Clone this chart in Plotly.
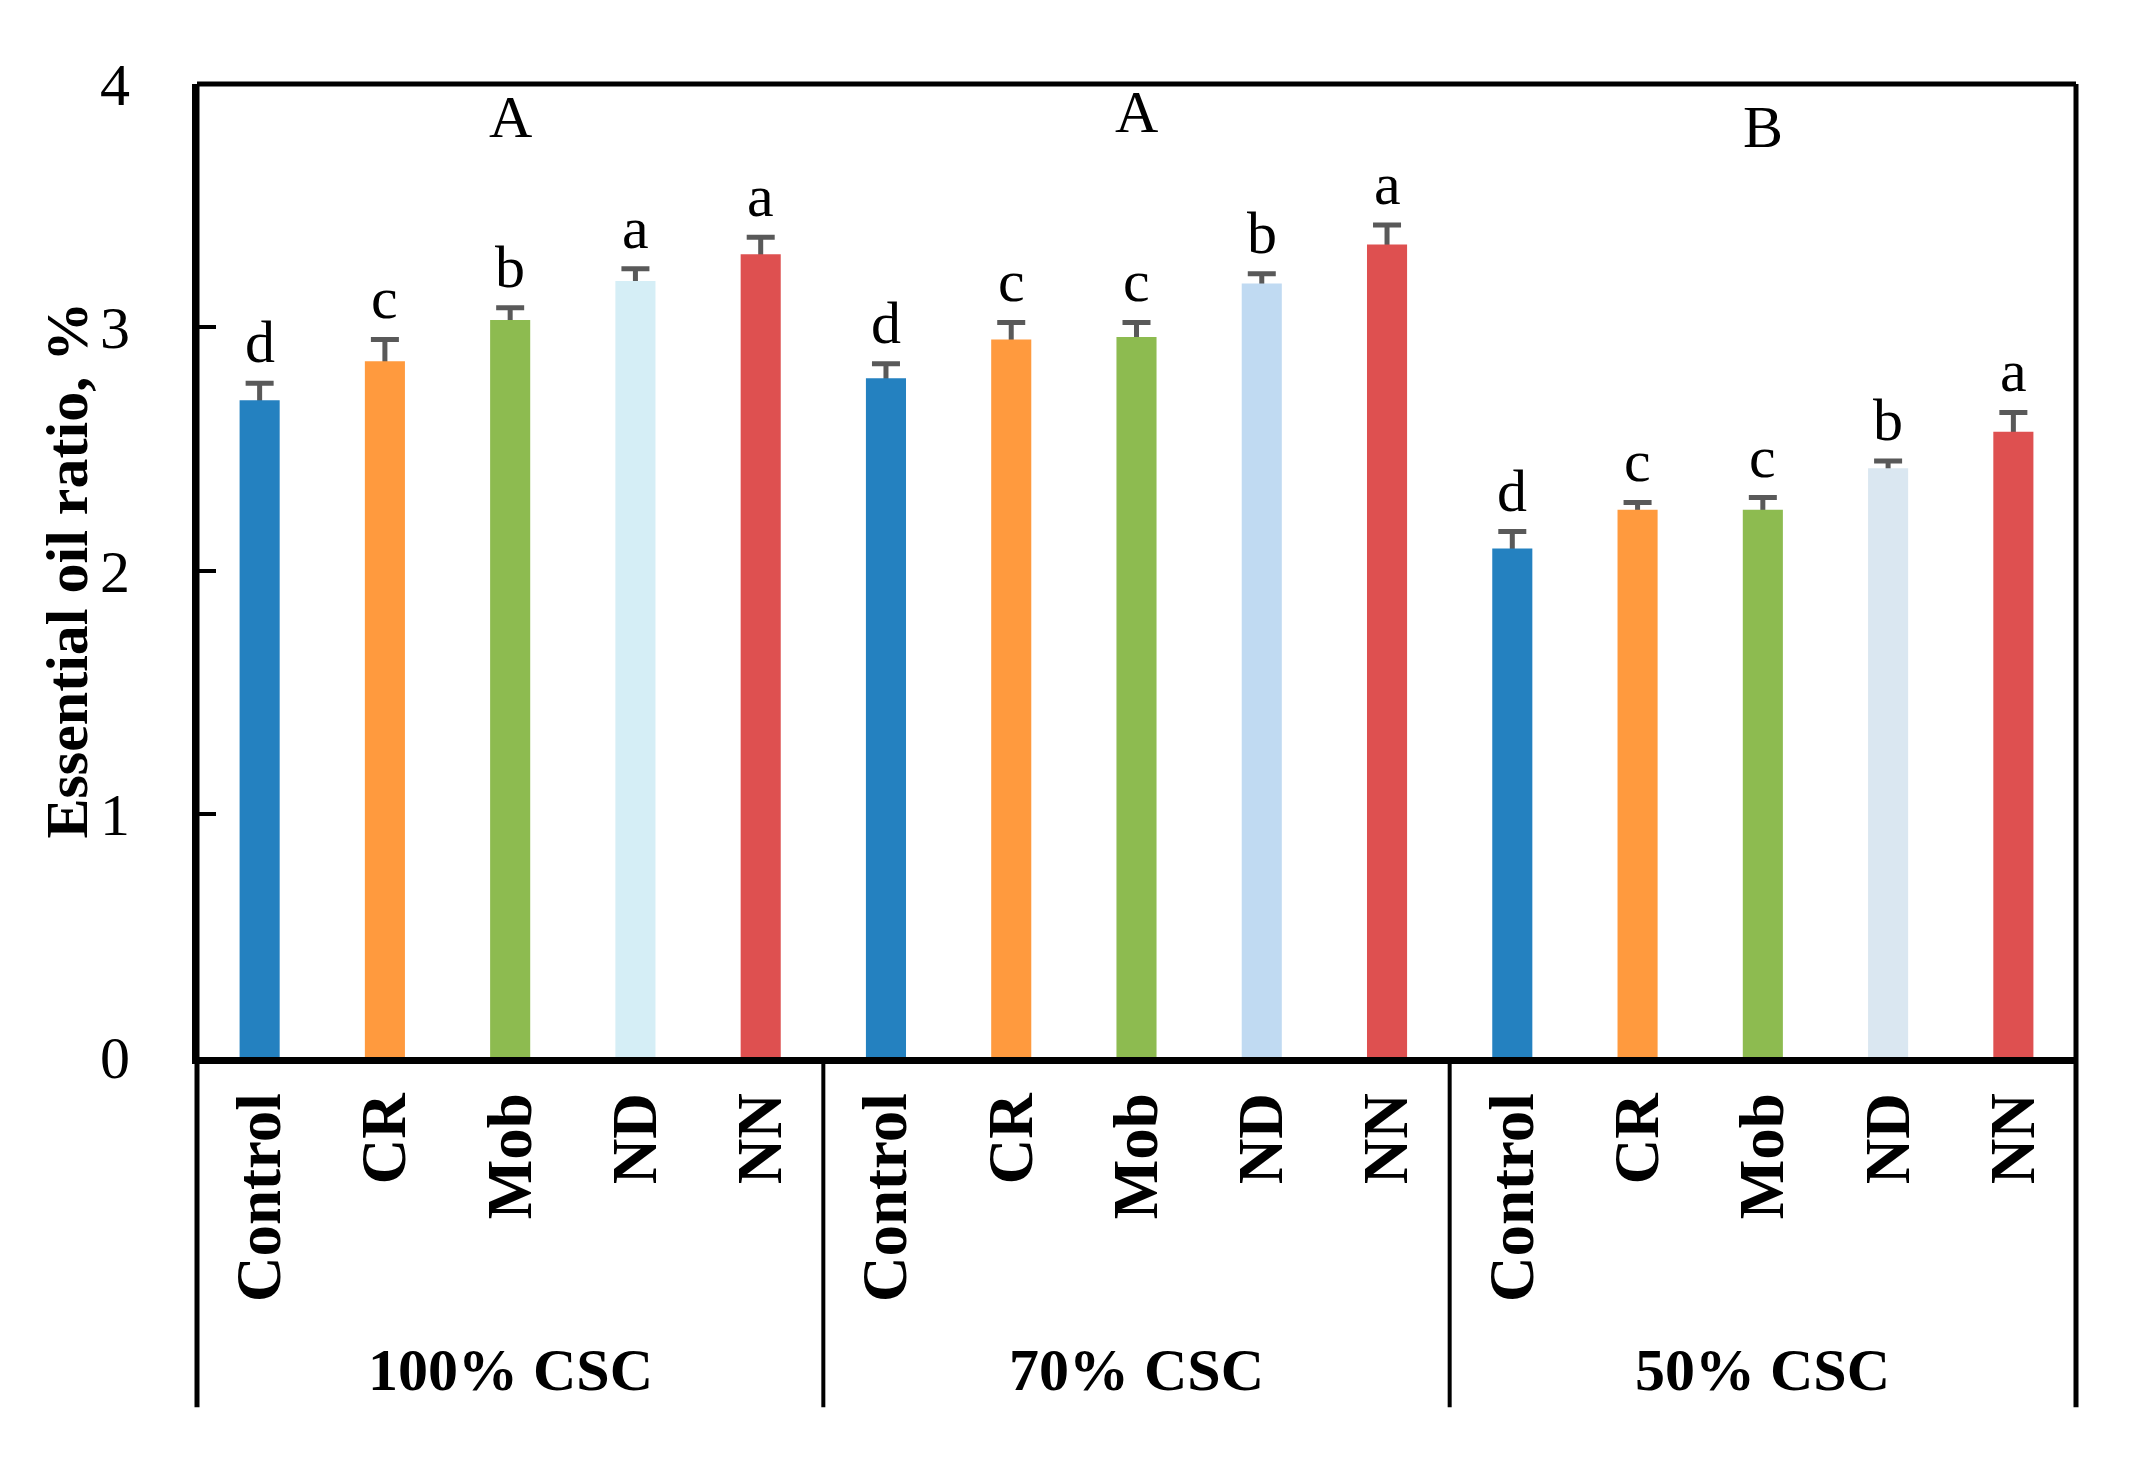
import plotly.graph_objects as go

# ---- data ----
treatments = ["Control", "CR", "Mob", "ND", "NN"]
groups = ["100% CSC", "70% CSC", "50% CSC"]
group_letters = ["A", "A", "B"]
group_letter_y = [3.72, 3.74, 3.68]

vals_100 = [2.70, 2.86, 3.03, 3.19, 3.30]
se_100 = [0.07, 0.09, 0.05, 0.05, 0.07]
let_100 = ["d", "c", "b", "a", "a"]

vals_70 = [2.79, 2.95, 2.96, 3.18, 3.34]
se_70 = [0.06, 0.07, 0.06, 0.04, 0.08]
let_70 = ["d", "c", "c", "b", "a"]

vals_50 = [2.09, 2.25, 2.25, 2.42, 2.57]
se_50 = [0.07, 0.03, 0.05, 0.03, 0.08]
let_50 = ["d", "c", "c", "b", "a"]

colors_100 = ["#2481C0", "#FF9A3E", "#8DBB50", "#D5EEF6", "#DE5050"]
colors_70 = ["#2481C0", "#FF9A3E", "#8DBB50", "#C0DAF2", "#DE5050"]
colors_50 = ["#2481C0", "#FF9A3E", "#8DBB50", "#DAE7F1", "#DE5050"]

y_title = "Essential oil ratio, %"

# ---- assemble ----
values = vals_100 + vals_70 + vals_50
errors = se_100 + se_70 + se_50
letters = let_100 + let_70 + let_50
colors = colors_100 + colors_70 + colors_50
labels = treatments * len(groups)
xs = list(range(len(values)))
n = len(treatments)

FONT = "Liberation Serif"
FS = 60

fig = go.Figure()
# error bars first (drawn underneath the bars so only the upper half shows)
fig.add_trace(go.Bar(
    x=xs, y=values, width=0.32,
    marker=dict(color="rgba(0,0,0,0)", line=dict(width=0)),
    error_y=dict(type="data", array=errors, symmetric=True,
                 color="#595959", thickness=5, width=14),
    showlegend=False, hoverinfo="skip",
))
fig.add_trace(go.Bar(
    x=xs, y=values, width=0.32,
    marker=dict(color=colors, line=dict(width=0)),
    showlegend=False,
))

annotations = []
for x, v, e, t in zip(xs, values, errors, letters):
    annotations.append(dict(x=x, y=v + e, text=t, showarrow=False,
                            xref="x", yref="y", yanchor="bottom", yshift=6,
                            font=dict(family=FONT, size=FS, color="black")))
for gi, (g, gl, gy) in enumerate(zip(groups, group_letters, group_letter_y)):
    cx = gi * n + (n - 1) / 2
    annotations.append(dict(x=cx, y=gy, text=gl, showarrow=False,
                            xref="x", yref="y", yanchor="bottom",
                            font=dict(family=FONT, size=FS, color="black")))
    annotations.append(dict(x=cx, y=-0.322, text="<b>%s</b>" % g, showarrow=False,
                            xref="x", yref="paper", yanchor="middle",
                            font=dict(family=FONT, size=FS, color="black")))
# y-axis title
annotations.append(dict(x=-0.0697, y=0.5, xref="paper", yref="paper",
                        text="<b>%s</b>" % y_title, textangle=-90, showarrow=False,
                        xanchor="center", yanchor="middle",
                        font=dict(family=FONT, size=FS, color="black")))

shapes = []
line_bottom = -0.36
for px in (0, 1):
    shapes.append(dict(type="line", xref="paper", yref="paper", x0=px, x1=px,
                       y0=1, y1=line_bottom, line=dict(color="black", width=5)))
shapes.append(dict(type="line", xref="paper", yref="paper", x0=0, x1=1,
                   y0=1, y1=1, line=dict(color="black", width=5)))
for gi in range(1, len(groups)):
    sx = gi * n - 0.5
    shapes.append(dict(type="line", xref="x", yref="paper", x0=sx, x1=sx,
                       y0=0, y1=line_bottom, line=dict(color="black", width=4)))

fig.update_layout(
    width=2118, height=1449,
    margin=dict(l=189, r=50, t=76, b=400),
    plot_bgcolor="white", paper_bgcolor="white",
    font=dict(family=FONT, size=FS, color="black"),
    annotations=annotations, shapes=shapes,
    barmode="overlay",
    xaxis=dict(range=[-0.5, len(values) - 0.5], tickvals=xs,
               ticktext=["<b>%s</b>" % l for l in labels],
               tickangle=-90, ticks="", showline=True, linecolor="black", linewidth=7,
               showgrid=False, zeroline=False, ticklabelstandoff=4,
               tickfont=dict(family=FONT, size=63, color="black")),
    yaxis=dict(range=[0, 4], tickvals=[0, 1, 2, 3, 4], ticks="inside", ticklen=19, tickwidth=4,
               tickcolor="black", showline=True, linecolor="black", linewidth=5,
               showgrid=False, zeroline=False, ticklabelstandoff=50,
               tickfont=dict(family=FONT, size=FS, color="black")),
)

fig.write_html("out.html")
